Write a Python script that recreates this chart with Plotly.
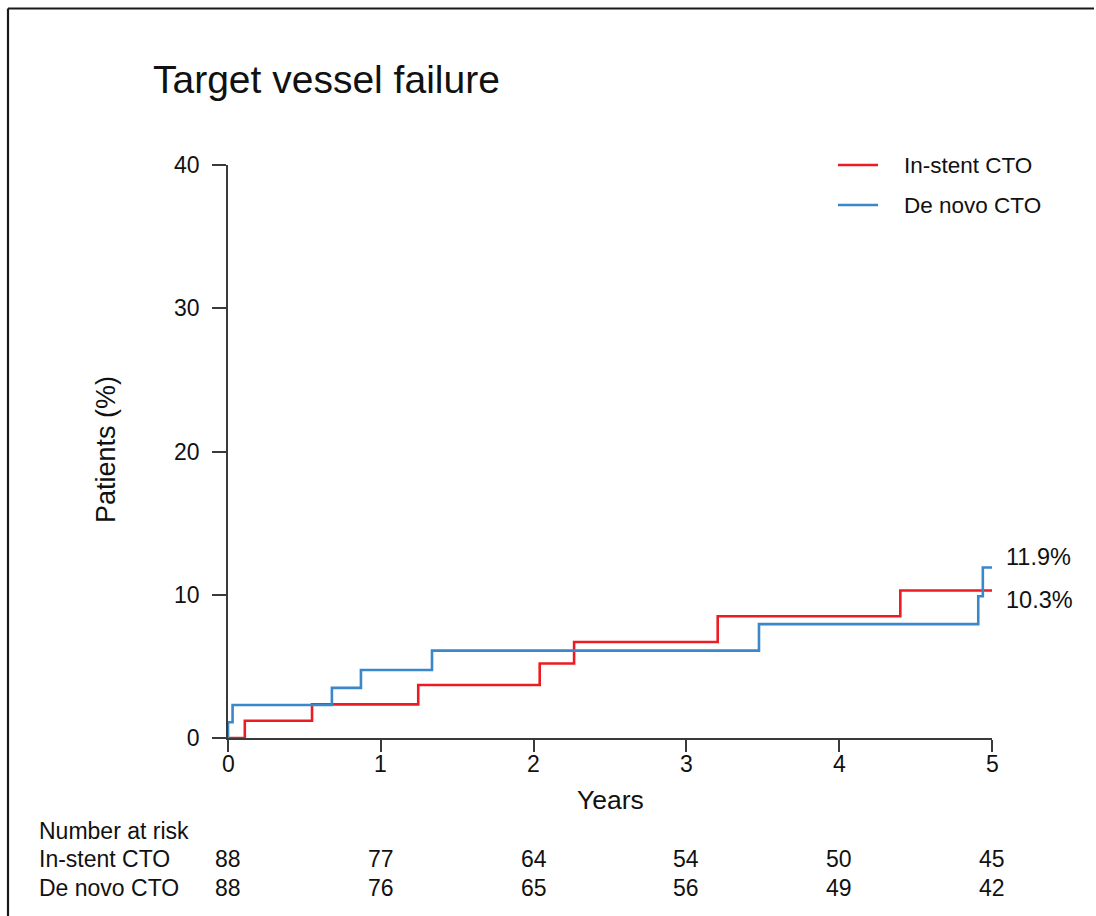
import plotly.graph_objects as go

# ---------------- data ----------------
instent_years = [0.0, 0.11, 0.55, 1.245, 2.04, 2.265, 3.205, 4.40, 5.0]
instent_pct = [0.0, 1.2, 2.35, 3.7, 5.2, 6.7, 8.5, 10.3, 10.3]

denovo_years = [0.0, 0.0, 0.03, 0.68, 0.87, 1.335, 3.475, 4.91, 4.94, 5.0]
denovo_pct = [0.0, 1.1, 2.3, 3.5, 4.75, 6.1, 7.95, 9.9, 11.9, 11.9]

series_names = ["In-stent CTO", "De novo CTO"]
x_ticks = [0, 1, 2, 3, 4, 5]
y_ticks = [0, 10, 20, 30, 40]
risk_times = [0, 1, 2, 3, 4, 5]
instent_risk = [88, 77, 64, 54, 50, 45]
denovo_risk = [88, 76, 65, 56, 49, 42]

title_text = "Target vessel failure"
x_title = "Years"
y_title = "Patients (%)"
risk_title = "Number at risk"

# ---------------- style ----------------
RED = "#EC1C24"
BLUE = "#3A87C9"
AXIS = "#3a3a3a"
FONT = "Arial, Liberation Sans, sans-serif"
W, H = 1096, 916
L, R, T, B = 228, 992, 165, 738


def px(p):
    return (p - L) / (R - L)


def py(p):
    return (B - p) / (B - T)


fig = go.Figure()
fig.add_trace(go.Scatter(x=instent_years, y=instent_pct, mode="lines",
                         line=dict(color=RED, width=2.6, shape="hv"),
                         name=series_names[0], showlegend=False))
fig.add_trace(go.Scatter(x=denovo_years, y=denovo_pct, mode="lines",
                         line=dict(color=BLUE, width=2.6, shape="hv"),
                         name=series_names[1], showlegend=False))

ann = []
shapes = []

# title
ann.append(dict(text=title_text, x=px(151), y=py(79), xref="paper", yref="paper",
                xanchor="left", yanchor="middle", showarrow=False,
                font=dict(family=FONT, size=39, color="#111")))
# axis titles
ann.append(dict(text=x_title, x=px(610), y=py(800), xref="paper", yref="paper",
                xanchor="center", yanchor="middle", showarrow=False,
                font=dict(family=FONT, size=26.5, color="#111")))
ann.append(dict(text=y_title, x=px(106), y=py(450), xref="paper", yref="paper",
                xanchor="center", yanchor="middle", showarrow=False, textangle=-90,
                font=dict(family=FONT, size=27, color="#111")))

# x tick labels
for t in x_ticks:
    ann.append(dict(text=str(t), x=t, y=py(764), xref="x", yref="paper",
                    xanchor="center", yanchor="middle", showarrow=False,
                    font=dict(family=FONT, size=23, color="#111")))

# legend (custom)
for i, (nm, col) in enumerate(zip(series_names, [RED, BLUE])):
    yy = 165 + 40 * i
    shapes.append(dict(type="line", xref="paper", yref="paper",
                       x0=px(838), x1=px(878), y0=py(yy), y1=py(yy),
                       line=dict(color=col, width=2.6)))
    ann.append(dict(text=nm, x=px(902), y=py(yy), xref="paper", yref="paper",
                    xanchor="left", yanchor="middle", showarrow=False,
                    font=dict(family=FONT, size=22.5, color="#111")))

# end labels
ann.append(dict(text=f"{denovo_pct[-1]:.1f}%", x=denovo_years[-1], y=py(557),
                xref="x", yref="paper", xanchor="left", yanchor="middle",
                xshift=12, showarrow=False, font=dict(family=FONT, size=23.5, color="#111")))
ann.append(dict(text=f"{instent_pct[-1]:.1f}%", x=instent_years[-1], y=py(600),
                xref="x", yref="paper", xanchor="left", yanchor="middle",
                xshift=12, showarrow=False, font=dict(family=FONT, size=23.5, color="#111")))

# number at risk table
TB = 23
ann.append(dict(text=risk_title, x=px(37), y=py(831), xref="paper", yref="paper",
                xanchor="left", yanchor="middle", showarrow=False,
                font=dict(family=FONT, size=TB, color="#111")))
for row_y, nm, vals in [(859, series_names[0], instent_risk), (888, series_names[1], denovo_risk)]:
    ann.append(dict(text=nm, x=px(37), y=py(row_y), xref="paper", yref="paper",
                    xanchor="left", yanchor="middle", showarrow=False,
                    font=dict(family=FONT, size=TB, color="#111")))
    for t, v in zip(risk_times, vals):
        ann.append(dict(text=str(v), x=t, y=py(row_y), xref="x", yref="paper",
                        xanchor="center", yanchor="middle", showarrow=False,
                        font=dict(family=FONT, size=TB, color="#111")))

# frame (top and left edges)
shapes.append(dict(type="line", xref="paper", yref="paper", x0=px(8), x1=px(1094),
                   y0=py(8.5), y1=py(8.5), line=dict(color="#1a1a1a", width=2.2)))
shapes.append(dict(type="line", xref="paper", yref="paper", x0=px(8), x1=px(8),
                   y0=py(8.5), y1=py(916), line=dict(color="#1a1a1a", width=2.2)))

fig.update_layout(
    width=W, height=H,
    margin=dict(l=L, r=W - R, t=T, b=H - B, pad=0),
    paper_bgcolor="white", plot_bgcolor="white",
    annotations=ann, shapes=shapes, showlegend=False,
    xaxis=dict(range=[0, 5], tickvals=x_ticks, showticklabels=False,
               showgrid=False, zeroline=False, showline=True, linecolor=AXIS,
               linewidth=1.5, ticks="outside", ticklen=12, tickwidth=1.5,
               tickcolor=AXIS),
    yaxis=dict(range=[0, 40], tickvals=y_ticks, ticktext=[str(v) for v in y_ticks],
               showgrid=False, zeroline=False, showline=True, linecolor=AXIS,
               linewidth=1.5, ticks="outside", ticklen=14, tickwidth=1.5,
               tickcolor=AXIS, ticklabelstandoff=8,
               tickfont=dict(family=FONT, size=23, color="#111")),
)

fig.write_html("out.html", config={"displayModeBar": False},
               post_script="document.body.style.margin='0';document.body.style.overflow='hidden';")
